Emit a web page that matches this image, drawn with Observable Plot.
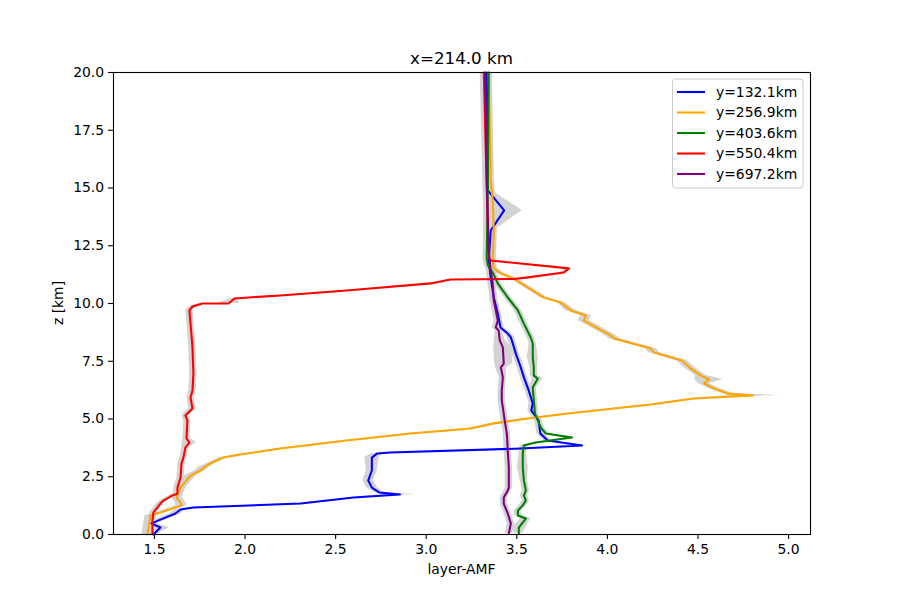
<!DOCTYPE html>
<html>
<head>
<meta charset="utf-8">
<script src="https://cdn.jsdelivr.net/npm/d3@7"></script>
<script src="https://cdn.jsdelivr.net/npm/@observablehq/plot@0.6"></script>
<style>
  html, body { margin: 0; padding: 0; background: #fff; }
  #chart { width: 900px; height: 600px; position: relative; }
  svg { font-family: "DejaVu Sans", sans-serif; }
</style>
</head>
<body>
<div id="chart"></div>
<script>
// ---- data ----
const seriesNames = ["y=132.1km", "y=256.9km", "y=403.6km", "y=550.4km", "y=697.2km"];
const seriesColors = ["blue", "orange", "green", "red", "purple"];
const xTicks = [1.5, 2.0, 2.5, 3.0, 3.5, 4.0, 4.5, 5.0];
const yTicks = [0, 2.5, 5, 7.5, 10, 12.5, 15, 17.5, 20];

const blueZ   = [0, 0.30, 0.48, 0.91, 1.08, 1.17, 1.34, 1.60, 1.73, 1.82, 2.03, 2.34, 2.77, 3.33, 3.51, 3.55, 3.72, 3.85, 4.07, 4.37, 4.94, 5.37, 5.67, 6.23, 6.80, 7.23, 7.84, 8.27, 8.53, 8.70, 8.96, 9.57, 10.26, 11.13, 11.86, 13.16, 14.03, 14.90, 20];
const blueAMF = [1.494, 1.533, 1.483, 1.616, 1.644, 1.715, 2.307, 2.60, 2.855, 2.74, 2.70, 2.68, 2.70, 2.70, 2.73, 2.80, 3.52, 3.86, 3.67, 3.63, 3.62, 3.58, 3.588, 3.566, 3.539, 3.522, 3.494, 3.478, 3.467, 3.45, 3.41, 3.395, 3.373, 3.356, 3.345, 3.356, 3.43, 3.34, 3.334];
const blueErr = [0.02, 0.05, 0.03, 0.03, 0.03, 0.03, 0.02, 0.02, 0.09, 0.03, 0.03, 0.03, 0.03, 0.04, 0.03, 0.02, 0.02, 0.02, 0.02, 0.02, 0.02, 0.02, 0.02, 0.02, 0.02, 0.02, 0.02, 0.02, 0.02, 0.02, 0.02, 0.02, 0.02, 0.02, 0.02, 0.02, 0.10, 0.02, 0.02];

const orangeZ   = [0, 0.82, 0.95, 1.26, 1.39, 1.60, 2.03, 2.34, 2.55, 2.77, 2.90, 3.12, 3.33, 3.46, 3.72, 4.07, 4.37, 4.59, 4.81, 5.02, 5.24, 5.63, 5.89, 6.02, 6.10, 6.32, 6.54, 6.71, 6.88, 7.19, 7.53, 7.88, 8.05, 8.48, 8.61, 9.26, 9.48, 9.70, 10.04, 10.26, 10.69, 11.08, 11.30, 11.52, 11.86, 13.16, 14.46, 15.32, 20];
const orangeAMF = [1.461, 1.478, 1.533, 1.649, 1.644, 1.622, 1.644, 1.677, 1.70, 1.754, 1.771, 1.82, 1.881, 1.975, 2.196, 2.561, 2.914, 3.246, 3.373, 3.561, 3.782, 4.24, 4.478, 4.804, 4.666, 4.588, 4.533, 4.561, 4.517, 4.46, 4.41, 4.257, 4.24, 4.036, 4.019, 3.870, 3.881, 3.798, 3.743, 3.649, 3.561, 3.483, 3.412, 3.373, 3.367, 3.373, 3.367, 3.356, 3.345];
const orangeErr = [0.03, 0.03, 0.02, 0.03, 0.03, 0.03, 0.03, 0.03, 0.03, 0.03, 0.03, 0.02, 0.02, 0.02, 0.02, 0.02, 0.02, 0.02, 0.02, 0.02, 0.02, 0.02, 0.02, 0.14, 0.03, 0.03, 0.03, 0.08, 0.03, 0.03, 0.03, 0.03, 0.03, 0.03, 0.03, 0.03, 0.03, 0.03, 0.02, 0.02, 0.02, 0.02, 0.02, 0.02, 0.02, 0.02, 0.02, 0.02, 0.02];

const greenZ   = [0.04, 0.30, 0.52, 0.69, 0.82, 1.04, 1.26, 1.47, 1.69, 1.90, 2.34, 2.90, 3.51, 3.85, 3.98, 4.20, 4.37, 4.63, 4.94, 5.24, 5.80, 6.36, 6.75, 6.88, 7.23, 7.66, 8.27, 8.53, 9.13, 9.70, 10.26, 10.87, 11.34, 11.65, 11.95, 15, 20];
const greenAMF = [3.511, 3.511, 3.533, 3.550, 3.506, 3.506, 3.533, 3.55, 3.539, 3.55, 3.539, 3.533, 3.533, 3.539, 3.605, 3.804, 3.66, 3.633, 3.616, 3.60, 3.594, 3.588, 3.616, 3.594, 3.594, 3.588, 3.588, 3.577, 3.539, 3.506, 3.45, 3.395, 3.367, 3.34, 3.334, 3.34, 3.345];
const greenErr = [0.02, 0.04, 0.03, 0.03, 0.02, 0.02, 0.02, 0.02, 0.02, 0.02, 0.02, 0.03, 0.02, 0.02, 0.02, 0.02, 0.02, 0.02, 0.02, 0.02, 0.02, 0.02, 0.03, 0.02, 0.02, 0.03, 0.02, 0.02, 0.02, 0.02, 0.02, 0.02, 0.02, 0.02, 0.02, 0.02, 0.02];

const redZ   = [0.04, 0.61, 0.95, 1.34, 1.47, 1.69, 1.77, 2.03, 2.47, 3.07, 3.33, 3.77, 3.98, 4.16, 4.94, 5.15, 5.45, 5.93, 6.23, 6.97, 8.10, 9.13, 9.70, 9.87, 10.00, 10.00, 10.22, 10.35, 10.56, 10.87, 11.04, 11.06, 11.13, 11.34, 11.52, 11.86, 11.99, 15, 20];
const redAMF = [1.489, 1.489, 1.494, 1.533, 1.55, 1.60, 1.627, 1.627, 1.644, 1.649, 1.66, 1.671, 1.693, 1.677, 1.682, 1.671, 1.71, 1.699, 1.71, 1.715, 1.71, 1.699, 1.693, 1.71, 1.765, 1.909, 1.942, 2.196, 2.561, 3.025, 3.135, 3.483, 3.561, 3.76, 3.787, 3.356, 3.345, 3.334, 3.318];
const redErr = [0.02, 0.02, 0.02, 0.02, 0.02, 0.02, 0.02, 0.02, 0.02, 0.02, 0.02, 0.02, 0.04, 0.02, 0.02, 0.02, 0.02, 0.02, 0.02, 0.02, 0.02, 0.02, 0.02, 0.02, 0.02, 0.06, 0.02, 0.02, 0.02, 0.02, 0.02, 0.02, 0.02, 0.02, 0.02, 0.02, 0.02, 0.02, 0.02];

const purpleZ   = [0.04, 0.48, 0.91, 1.34, 1.60, 1.90, 2.03, 2.90, 3.64, 4.37, 4.94, 5.50, 5.80, 6.23, 6.80, 7.23, 7.40, 8.10, 8.40, 8.83, 8.96, 9.26, 10.13, 10.87, 11.43, 12.29, 15, 20];
const purpleAMF = [3.456, 3.467, 3.45, 3.428, 3.428, 3.45, 3.456, 3.456, 3.45, 3.445, 3.433, 3.423, 3.417, 3.417, 3.423, 3.412, 3.428, 3.423, 3.406, 3.40, 3.384, 3.395, 3.373, 3.367, 3.356, 3.345, 3.335, 3.325];
const purpleErr = [0.02, 0.02, 0.02, 0.02, 0.02, 0.02, 0.02, 0.02, 0.02, 0.02, 0.02, 0.02, 0.02, 0.02, 0.02, 0.03, 0.05, 0.05, 0.03, 0.02, 0.02, 0.02, 0.02, 0.02, 0.02, 0.02, 0.02, 0.02];

// ---- build table ----
const seriesData = [
  [blueZ, blueAMF, blueErr],
  [orangeZ, orangeAMF, orangeErr],
  [greenZ, greenAMF, greenErr],
  [redZ, redAMF, redErr],
  [purpleZ, purpleAMF, purpleErr]
];
const rows = [];
seriesData.forEach(([zs, xs, es], i) => {
  zs.forEach((z, j) => rows.push({s: seriesNames[i], z, x: xs[j], e: es[j]}));
});

const fs = 13.9;
const chart = Plot.plot({
  width: 900,
  height: 600,
  marginLeft: 113,
  marginRight: 90,
  marginTop: 72,
  marginBottom: 66,
  style: {fontFamily: "DejaVu Sans, sans-serif", fontSize: fs + "px", background: "white", overflow: "visible"},
  x: {domain: [1.274, 5.121], ticks: xTicks, tickFormat: d3.format(".1f")},
  y: {domain: [0, 20], ticks: yTicks, tickFormat: d3.format(".1f")},
  color: {domain: seriesNames, range: seriesColors},
  marks: [
    Plot.areaX(rows, {y: "z", x1: d => d.x - d.e, x2: d => d.x + d.e, z: "s", fill: "#d3d3d3"}),
    Plot.line(rows, {x: "x", y: "z", z: "s", stroke: "s", strokeWidth: 2.08, strokeLinejoin: "round"}),
    Plot.frame({stroke: "black", strokeWidth: 1.1}),
    Plot.axisX({ticks: xTicks, tickFormat: d3.format(".1f"), tickSize: 4.9, tickPadding: 4.5, stroke: "black", strokeWidth: 1.1, fill: "black", fontSize: fs, label: null}),
    Plot.axisY({ticks: yTicks, tickFormat: d3.format(".1f"), tickSize: 4.9, tickPadding: 4.5, stroke: "black", strokeWidth: 1.1, fill: "black", fontSize: fs, label: null})
  ]
});
document.getElementById("chart").appendChild(chart);

// ---- titles, labels, legend ----
const svg = d3.select(chart);
svg.append("text").attr("x", 461.5).attr("y", 64).attr("text-anchor", "middle")
  .attr("font-size", 16.7).attr("fill", "black").text("x=214.0 km");
svg.append("text").attr("x", 461.5).attr("y", 574).attr("text-anchor", "middle")
  .attr("font-size", fs).attr("fill", "black").text("layer-AMF");
svg.append("text").attr("transform", "translate(63,303) rotate(-90)").attr("text-anchor", "middle")
  .attr("font-size", fs).attr("fill", "black").text("z [km]");

const lg = svg.append("g");
lg.append("rect").attr("x", 672.5).attr("y", 79).attr("width", 130.5).attr("height", 109).attr("rx", 3)
  .attr("fill", "white").attr("fill-opacity", 0.8).attr("stroke", "#cccccc").attr("stroke-width", 1);
seriesNames.forEach((name, i) => {
  const yy = 92 + i * 20.5;
  lg.append("line").attr("x1", 677).attr("x2", 705).attr("y1", yy).attr("y2", yy)
    .attr("stroke", seriesColors[i]).attr("stroke-width", 2.08);
  lg.append("text").attr("x", 716).attr("y", yy).attr("dy", "0.35em").attr("text-anchor", "start")
    .attr("font-size", fs).attr("fill", "black").text(name);
});
</script>
</body>
</html>
